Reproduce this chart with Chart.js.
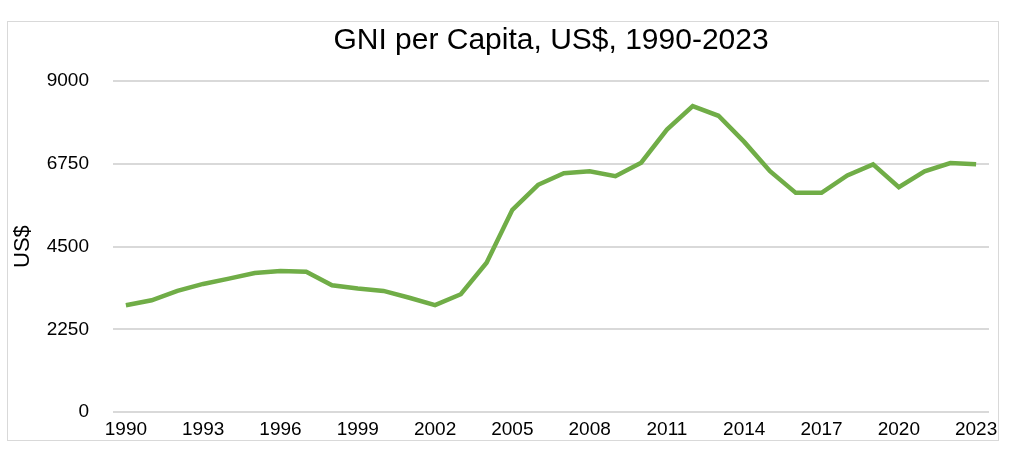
<!DOCTYPE html>
<html>
<head>
<meta charset="utf-8">
<script src="https://cdn.jsdelivr.net/npm/chart.js@4"></script>
<style>
    html, body { margin: 0; padding: 0; background: #fff; }
    #wrap { width: 1024px; height: 462px; }
</style>
</head>
<body>
<div id="wrap"><canvas id="gniChart" width="1024" height="462"></canvas></div>
<script>
// GNI per capita, US$
const years = [];
for (let y = 1990; y <= 2023; y++) years.push(String(y));

const gniValues = [
    2905, 3040, 3295, 3485, 3630, 3780, 3840, 3815, 3450, 3360,
    3295, 3110, 2910, 3205, 4060, 5500, 6180, 6495, 6545, 6415,
    6780, 7680, 8320, 8055, 7345, 6550, 5960, 5960, 6435, 6735,
    6115, 6545, 6770, 6735
];

const yTicks = [0, 2250, 4500, 6750, 9000];

const FONT = '"Liberation Sans", Arial, Helvetica, sans-serif';

// light grey frame round the chart, like the spreadsheet chart border
const framePlugin = {
    id: 'frame',
    beforeDraw(chart) {
        const ctx = chart.ctx;
        ctx.save();
        ctx.fillStyle = '#fff';
        ctx.fillRect(0, 0, chart.width, chart.height);
        ctx.strokeStyle = '#d9d9d9';
        ctx.lineWidth = 1;
        ctx.strokeRect(7.5, 21.5, 991, 419);
        ctx.restore();
    }
};

new Chart(document.getElementById('gniChart'), {
    type: 'line',
    data: {
        labels: years,
        datasets: [{
            label: 'GNI per Capita',
            data: gniValues,
            borderColor: '#70ad47',
            borderWidth: 4.5,
            pointRadius: 0,
            tension: 0,
            fill: false
        }]
    },
    options: {
        responsive: false,
        animation: false,
        layout: {
            padding: { left: 10, right: 35, top: 23, bottom: 15 }
        },
        plugins: {
            legend: { display: false },
            tooltip: { enabled: false },
            title: {
                display: true,
                text: 'GNI per Capita, US$, 1990-2023',
                fullSize: false,
                color: '#000',
                font: { family: FONT, size: 30, weight: 'normal' },
                padding: { top: 0, bottom: 22 }
            }
        },
        scales: {
            x: {
                offset: true,
                grid: { display: false, drawTicks: false },
                border: { display: false },
                ticks: {
                    autoSkip: false,
                    maxRotation: 0,
                    padding: 6,
                    color: '#000',
                    font: { family: FONT, size: 19 },
                    callback: (val, i) => (i % 3 === 0 ? years[i] : '')
                }
            },
            y: {
                min: 0,
                max: 9000,
                afterBuildTicks: (scale) => {
                    scale.ticks = yTicks.map(v => ({ value: v }));
                },
                afterFit: (scale) => { scale.width = 103; },
                grid: { color: '#d9d9d9', lineWidth: 2, drawTicks: false },
                border: { display: false },
                ticks: {
                    padding: 24,
                    color: '#000',
                    font: { family: FONT, size: 19 },
                    callback: (v) => String(v)
                },
                title: {
                    display: true,
                    text: 'US$',
                    color: '#000',
                    padding: 0,
                    font: { family: FONT, size: 22 }
                }
            }
        }
    },
    plugins: [framePlugin]
});
</script>
</body>
</html>
